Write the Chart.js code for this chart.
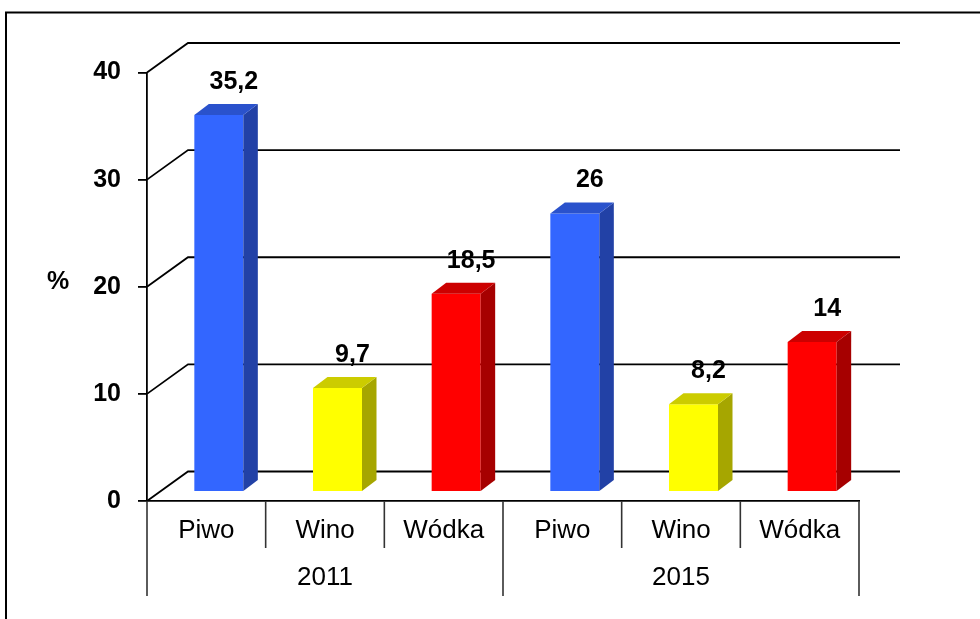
<!DOCTYPE html>
<html><head><meta charset="utf-8">
<script src="https://cdn.jsdelivr.net/npm/chart.js@4"></script>
<style>html,body{margin:0;padding:0;background:#fff;} canvas{display:block;}</style>
</head><body>
<canvas id="c" width="980" height="619"></canvas>
<script>
// ---- data ----
const years = ['2011', '2015'];
const drinks = ['Piwo', 'Wino', 'Wódka'];
const values2011 = [35.2, 9.7, 18.5];
const values2015 = [26, 8.2, 14];
const yTicks = [0, 10, 20, 30, 40];
const yUnit = '%';

// ---- styles ----
const frontColors = ['#3366FF', '#FFFF00', '#FF0000'];
const sideColors = ['#2241A6', '#A6A600', '#A60000'];
const topColors = ['#2A52CC', '#CCCC00', '#CC0000'];
const FONT = '"Liberation Sans", Arial, sans-serif';

const categories = years.flatMap(() => drinks);
const values = [...values2011, ...values2015];
const fmt = v => String(v).replace('.', ',');

const WALL = {dx: 41, dy: -29.5};
const SHIFT = {dx: 12.5, dy: -9};
const DEPTH = {dx: 14.5, dy: -11};

const threeD = {
  id: 'threeD',
  beforeDraw(chart) {
    const {ctx} = chart;
    ctx.save();
    ctx.strokeStyle = '#000'; ctx.lineWidth = 2;
    ctx.beginPath();
    ctx.moveTo(6, 619); ctx.lineTo(6, 12.5); ctx.lineTo(980, 12.5);
    ctx.stroke();
    ctx.restore();
  },
  beforeDatasetsDraw(chart) {
    const {ctx, chartArea: a, scales: {y}} = chart;
    ctx.save();
    ctx.strokeStyle = '#000'; ctx.lineWidth = 1.8;
    y.ticks.forEach(t => {
      const py = y.getPixelForValue(t.value);
      ctx.beginPath();
      ctx.moveTo(a.left, py);
      ctx.lineTo(a.left + WALL.dx, py + WALL.dy);
      ctx.lineTo(a.right + WALL.dx, py + WALL.dy);
      ctx.stroke();
    });
    ctx.restore();
    ctx.save();
    ctx.translate(SHIFT.dx, SHIFT.dy);
  },
  afterDatasetsDraw(chart) {
    const {ctx} = chart;
    const meta = chart.getDatasetMeta(0);
    meta.data.forEach((bar, i) => {
      const {x, y, base, width} = bar.getProps(['x', 'y', 'base', 'width'], true);
      const xl = x - width / 2, xr = x + width / 2;
      const c = i % drinks.length;
      ctx.fillStyle = sideColors[c];
      ctx.beginPath();
      ctx.moveTo(xr, y); ctx.lineTo(xr + DEPTH.dx, y + DEPTH.dy);
      ctx.lineTo(xr + DEPTH.dx, base + DEPTH.dy); ctx.lineTo(xr, base);
      ctx.closePath(); ctx.fill();
      ctx.fillStyle = topColors[c];
      ctx.beginPath();
      ctx.moveTo(xl, y); ctx.lineTo(xl + DEPTH.dx, y + DEPTH.dy);
      ctx.lineTo(xr + DEPTH.dx, y + DEPTH.dy); ctx.lineTo(xr, y);
      ctx.closePath(); ctx.fill();
    });
    ctx.restore();
    ctx.save();
    ctx.fillStyle = '#000';
    ctx.font = 'bold 25px ' + FONT;
    ctx.textAlign = 'center'; ctx.textBaseline = 'middle';
    meta.data.forEach((bar, i) => {
      const {x, y} = bar.getProps(['x', 'y'], true);
      ctx.fillText(fmt(values[i]), x + SHIFT.dx + 15, y + SHIFT.dy - 33);
    });
    ctx.restore();
  },
  afterDraw(chart) {
    const {ctx, scales: {x, x2}} = chart;
    ctx.save();
    ctx.strokeStyle = '#333'; ctx.lineWidth = 1.6;
    const n = categories.length;
    for (let i = 0; i <= n; i++) {
      const px = i === 0 ? x.left : i === n ? x.right : (x.getPixelForValue(i - 1) + x.getPixelForValue(i)) / 2;
      const isGroup = i % drinks.length === 0;
      ctx.beginPath();
      ctx.moveTo(px, x.top);
      ctx.lineTo(px, isGroup ? x2.bottom : x.bottom);
      ctx.stroke();
    }
    ctx.fillStyle = '#000';
    ctx.font = 'bold 25px ' + FONT;
    ctx.textAlign = 'center'; ctx.textBaseline = 'middle';
    ctx.fillText(yUnit, 58, 282);
    ctx.restore();
  }
};

new Chart(document.getElementById('c'), {
  type: 'bar',
  data: {
    labels: categories,
    datasets: [{
      data: values,
      backgroundColor: categories.map((_, i) => frontColors[i % drinks.length]),
      borderWidth: 0,
      barPercentage: 0.413,
      categoryPercentage: 1
    }]
  },
  options: {
    responsive: false,
    animation: false,
    devicePixelRatio: 1,
    layout: {padding: {top: 72.5, right: 121, bottom: 23, left: 0}},
    plugins: {legend: {display: false}, tooltip: {enabled: false}},
    scales: {
      x: {
        type: 'category', position: 'bottom',
        grid: {display: false, drawTicks: false},
        border: {display: true, color: '#000', width: 1.8},
        ticks: {color: '#000', font: {family: FONT, size: 26}, padding: 14, maxRotation: 0, autoSkip: false},
        afterFit(s) { s.height = 47; }
      },
      x2: {
        type: 'category', position: 'bottom', labels: years, offset: true,
        grid: {display: false, drawTicks: false},
        border: {display: false},
        ticks: {color: '#000', font: {family: FONT, size: 26}, padding: 14, maxRotation: 0, autoSkip: false},
        afterFit(s) { s.height = 48; }
      },
      y: {
        min: 0, max: 40,
        afterBuildTicks(s) { s.ticks = yTicks.map(v => ({value: v})); },
        ticks: {color: '#000', font: {family: FONT, size: 25, weight: 'bold'}, padding: 17},
        grid: {drawOnChartArea: false, color: '#000', lineWidth: 1.8, tickLength: 9},
        border: {color: '#000', width: 1.8},
        afterFit(s) { s.width = 147; }
      }
    }
  },
  plugins: [threeD]
});
</script>
</body></html>
